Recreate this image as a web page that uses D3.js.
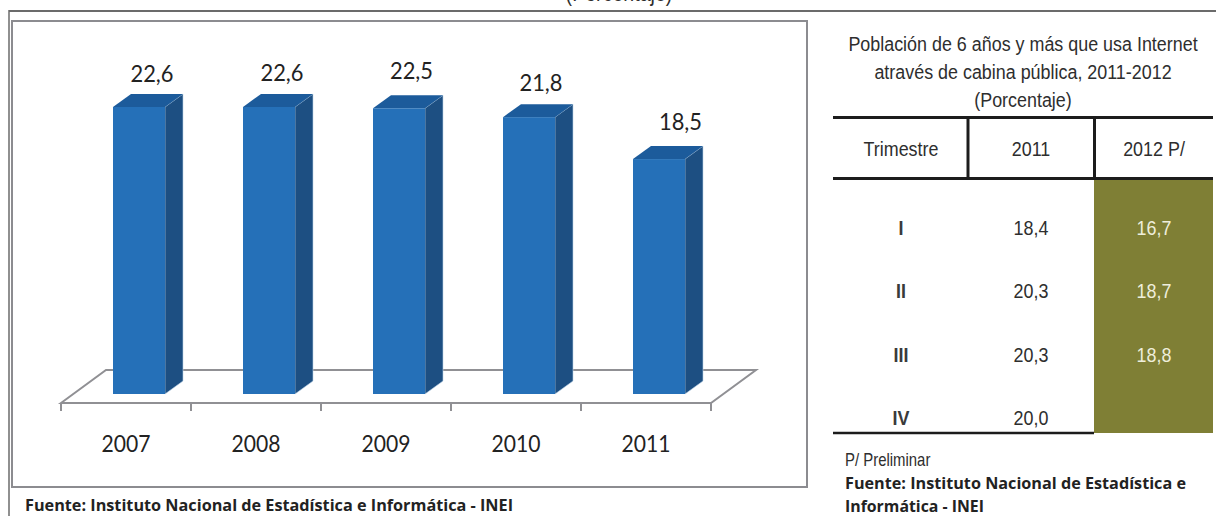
<!DOCTYPE html>
<html><head><meta charset="utf-8">
<script src="https://cdn.jsdelivr.net/npm/d3@7"></script>
<style>html,body{margin:0;padding:0;background:#fff}svg{display:block}</style>
</head><body><svg id="c" width="1216" height="516"></svg>
<script>
const years = ["2007","2008","2009","2010","2011"];
const values = [22.6,22.6,22.5,21.8,18.5];
const quarters = ["I","II","III","IV"];
const values2011 = [18.4,20.3,20.3,20.0];
const values2012 = [16.7,18.7,18.8,null];
const tableHead = ["Trimestre","2011","2012 P/"];
const tableTitle = ["Población de 6 años y más que usa Internet","através de cabina pública, 2011-2012","(Porcentaje)"];
const fmt = v => v.toFixed(1).replace(".",",");

const svg = d3.select("#c");
const LATO = "Lato, sans-serif", OPEN = "'Open Sans',sans-serif", ARIAL = "'Liberation Sans',sans-serif";
const line=(g,x1,y1,x2,y2,s,w)=>g.append("line").attr("x1",x1).attr("y1",y1).attr("x2",x2).attr("y2",y2).attr("stroke",s).attr("stroke-width",w);
// condensed text: Liberation Sans squeezed horizontally, like the narrow face of the source
const narrow=(g,x,y,t,o={})=>g.append("text").attr("transform",`translate(${x},${y}) scale(0.853,1)`)
  .attr("text-anchor",o.a||"middle").attr("font-family",ARIAL).attr("font-size",o.s||21).attr("font-weight",o.w||"normal").attr("fill",o.c||"#2e2e2e").text(t);
const bold=(g,x,y,t,len)=>g.append("text").attr("x",x).attr("y",y).attr("font-family",OPEN).attr("font-size",15.5).attr("font-weight","bold").attr("fill","#222")
  .attr("textLength",len).attr("lengthAdjust","spacingAndGlyphs").text(t);

// frames
line(svg,9,11,1216,11,"#6b6b6b",2);
line(svg,9,10,9,516,"#6b6b6b",1.5);
svg.append("rect").attr("x",12).attr("y",21).attr("width",795).attr("height",466).attr("fill","#fff").attr("stroke","#8c8c90").attr("stroke-width",2);
narrow(svg,619,1,"(Porcentaje)",{s:23});

// chart
const x = d3.scaleBand().domain(years).range([61,711]);
const y = d3.scaleLinear().domain([0,22.6]).range([394,107]);
const dx=18, dy=13, floorDx=45, floorDy=33, barOff=52, barW=52;
const floorY=403;
const g = svg.append("g");
g.append("path").attr("d",`M${x.range()[0]},${floorY}L${x.range()[0]+floorDx},${floorY-floorDy}L${x.range()[1]+floorDx},${floorY-floorDy}L${x.range()[1]},${floorY}Z`)
  .attr("fill","#fff").attr("stroke","#909094").attr("stroke-width",2);
g.append("g").attr("transform",`translate(0,${floorY})`)
  .call(d3.axisBottom(x).tickSize(0).tickPadding(33))
  .call(a=>{a.select(".domain").remove();
    a.selectAll("text").attr("font-family",LATO).attr("font-size",22.5).attr("fill","#222")
      .attr("textLength",49).attr("lengthAdjust","spacingAndGlyphs");});
[...years.map(d=>x(d)),x.range()[1]].forEach(t=>line(g,t,floorY,t,floorY+8,"#909094",2));

const bars = g.selectAll(".bar").data(years.map((d,i)=>({d,v:values[i]}))).join("g").attr("class","bar");
bars.append("path").attr("fill","#1d4f82").attr("stroke","#bcd3e8").attr("stroke-width",.6)
  .attr("d",b=>{const l=x(b.d)+barOff+barW,t=y(b.v),u=y(0);return `M${l},${t}L${l+dx},${t-dy}L${l+dx},${u-dy}L${l},${u}Z`;});
bars.append("path").attr("fill","#1c5b9b")
  .attr("d",b=>{const l=x(b.d)+barOff,t=y(b.v);return `M${l},${t}L${l+dx},${t-dy}L${l+barW+dx},${t-dy}L${l+barW},${t}Z`;});
bars.append("rect").attr("fill","#2570b8")
  .attr("x",b=>x(b.d)+barOff).attr("width",barW).attr("y",b=>y(b.v)).attr("height",b=>y(0)-y(b.v));

// data labels (manual placement as in the source chart)
const labelShiftX=[26,26,25.5,25,34.5], labelShiftY=[25,26,29,26,29];
bars.append("text").attr("text-anchor","middle").attr("font-family",LATO).attr("font-size",22.5).attr("fill","#222")
  .attr("textLength",43).attr("lengthAdjust","spacingAndGlyphs")
  .attr("x",(b,i)=>x(b.d)+x.bandwidth()/2+labelShiftX[i]).attr("y",(b,i)=>y(b.v)-labelShiftY[i]).text(b=>fmt(b.v));

bold(svg,25,511,"Fuente: Instituto Nacional de Estadística e Informática - INEI",488);

// table
const T=svg.append("g");
tableTitle.forEach((t,i)=>narrow(T,1023,51+i*28,t));
const cols=[901,1031,1154];
const rowY=d3.scalePoint().domain(quarters).range([235,425]);
T.append("rect").attr("x",1094).attr("y",180).attr("width",119).attr("height",253).attr("fill","#7f7f35");
line(T,833,117.5,1213,117.5,"#1c1c1c",3);
line(T,833,178.5,1213,178.5,"#1c1c1c",3);
line(T,968,117,968,178,"#1c1c1c",3);
line(T,1094.5,117,1094.5,178,"#1c1c1c",3);
line(T,833,433,1094,433,"#1c1c1c",2.5);
tableHead.forEach((t,i)=>narrow(T,cols[i],156,t));
quarters.forEach((q,i)=>{
  narrow(T,cols[0],rowY(q),q,{w:"bold",c:"#3a3a3a"});
  narrow(T,cols[1],rowY(q),fmt(values2011[i]));
  if(values2012[i]!=null) narrow(T,cols[2],rowY(q),fmt(values2012[i]),{c:"#eeeedc"});
});
narrow(T,845,466,"P/ Preliminar",{a:"start",s:17.5});
bold(T,845,489,"Fuente: Instituto Nacional de Estadística e",341);
bold(T,845,512,"Informática - INEI",139);
</script></body></html>
